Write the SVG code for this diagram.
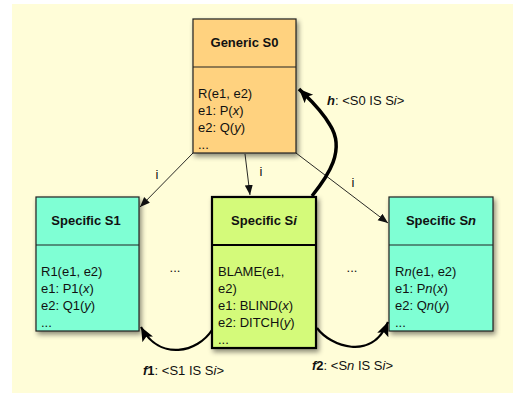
<svg xmlns="http://www.w3.org/2000/svg" width="513" height="394" viewBox="0 0 513 394">
<defs>
<style>
.box{stroke:#222;stroke-width:1.2}
.thick{stroke:#000;stroke-width:2.2}
.title{font-family:"Liberation Sans",Arial,sans-serif;font-size:13px;font-weight:bold;text-anchor:middle;fill:#111}
.body{font-family:"Liberation Sans",Arial,sans-serif;font-size:13px;fill:#111}
.lbl{font-family:"Liberation Sans",Arial,sans-serif;font-size:13px;fill:#111}
.thin{fill:none;stroke:#111;stroke-width:0.9}
.heavy{fill:none;stroke:#000;stroke-width:3.5}
.med{fill:none;stroke:#000;stroke-width:2.2}
</style>
<filter id="sh" x="-20%" y="-20%" width="150%" height="150%">
<feDropShadow dx="2" dy="3" stdDeviation="2.5" flood-color="#000" flood-opacity="0.45"/>
</filter>
<marker id="ah" markerUnits="userSpaceOnUse" markerWidth="12" markerHeight="10" refX="10" refY="4" orient="auto">
<path d="M0,0 L10,4 L0,8 Z" fill="#111"/>
</marker>
<marker id="ahb" markerUnits="userSpaceOnUse" markerWidth="16" markerHeight="14" refX="14" refY="6" orient="auto">
<path d="M0,0 L14,6 L0,12 L3,6 Z" fill="#000"/>
</marker>
</defs>
<rect x="0" y="0" width="513" height="394" fill="#fff"/>
<rect x="12" y="4" width="501" height="389" fill="#FFFDD8"/>

<g id="S0">
<rect class="box" x="193" y="19" width="103" height="134" fill="#FFD27F" filter="url(#sh)"/>
<line class="box" x1="193" y1="67" x2="296" y2="67"/>
<text class="title" x="244.5" y="47">Generic S0</text>
<text class="body" x="198" y="98">R(e1, e2)</text>
<text class="body" x="198" y="115">e1: P(<tspan font-style="italic">x</tspan>)</text>
<text class="body" x="198" y="132">e2: Q(<tspan font-style="italic">y</tspan>)</text>
<text class="body" x="198" y="149">...</text>
</g>

<g id="S1">
<rect class="box" x="36" y="197" width="103" height="134" fill="#7FFFD4" filter="url(#sh)"/>
<line class="box" x1="36" y1="245" x2="139" y2="245"/>
<text class="title" x="86" y="225">Specific S1</text>
<text class="body" x="41" y="276">R1(e1, e2)</text>
<text class="body" x="41" y="293">e1: P1(<tspan font-style="italic">x</tspan>)</text>
<text class="body" x="41" y="310">e2: Q1(<tspan font-style="italic">y</tspan>)</text>
<text class="body" x="41" y="327">...</text>
</g>

<g id="Si">
<rect class="thick" x="212" y="197" width="104" height="151" fill="#D4FA7A" filter="url(#sh)"/>
<line class="thick" x1="212" y1="245" x2="316" y2="245"/>
<text class="title" x="264" y="225">Specific S<tspan font-style="italic">i</tspan></text>
<text class="body" x="218" y="276">BLAME(e1,</text>
<text class="body" x="218" y="293">e2)</text>
<text class="body" x="218" y="310">e1: BLIND(<tspan font-style="italic">x</tspan>)</text>
<text class="body" x="218" y="327">e2: DITCH(<tspan font-style="italic">y</tspan>)</text>
<text class="body" x="218" y="344">...</text>
</g>

<g id="Sn">
<rect class="box" x="389" y="197" width="104" height="134" fill="#7FFFD4" filter="url(#sh)"/>
<line class="box" x1="389" y1="245" x2="493" y2="245"/>
<text class="title" x="441" y="225">Specific S<tspan font-style="italic">n</tspan></text>
<text class="body" x="395" y="276">R<tspan font-style="italic">n</tspan>(e1, e2)</text>
<text class="body" x="395" y="293">e1: P<tspan font-style="italic">n</tspan>(<tspan font-style="italic">x</tspan>)</text>
<text class="body" x="395" y="310">e2: Q<tspan font-style="italic">n</tspan>(<tspan font-style="italic">y</tspan>)</text>
<text class="body" x="395" y="327">...</text>
</g>

<g id="dots">
<text class="body" x="175" y="272" text-anchor="middle">...</text>
<text class="body" x="352" y="272" text-anchor="middle">...</text>
</g>

<g id="connectors">
<line class="thin" x1="193" y1="153" x2="140" y2="207" marker-end="url(#ah)"/>
<line class="thin" x1="245" y1="154" x2="250" y2="195" marker-end="url(#ah)"/>
<line class="thin" x1="296" y1="153" x2="388" y2="223" marker-end="url(#ah)"/>
<path class="heavy" d="M312,196 C328,176 346,150 330,125 C320,108 308,98 299,89" marker-end="url(#ahb)"/>
<path class="med" d="M212,330 C198,352 160,362 141,327" marker-end="url(#ahb)"/>
<path class="med" d="M317,328 C330,346 372,362 388,322" marker-end="url(#ahb)"/>
<text class="lbl" x="157" y="179" text-anchor="middle">i</text>
<text class="lbl" x="261" y="176" text-anchor="middle">i</text>
<text class="lbl" x="353" y="187" text-anchor="middle">i</text>
<text class="lbl" x="327" y="105"><tspan font-weight="bold" font-style="italic">h</tspan>: &lt;S0 IS S<tspan font-style="italic">i</tspan>&gt;</text>
<text class="lbl" x="143" y="375"><tspan font-weight="bold" font-style="italic">f</tspan><tspan font-weight="bold">1</tspan>: &lt;S1 IS S<tspan font-style="italic">i</tspan>&gt;</text>
<text class="lbl" x="312" y="370"><tspan font-weight="bold" font-style="italic">f</tspan><tspan font-weight="bold">2</tspan>: &lt;S<tspan font-style="italic">n</tspan> IS S<tspan font-style="italic">i</tspan>&gt;</text>
</g>
</svg>
